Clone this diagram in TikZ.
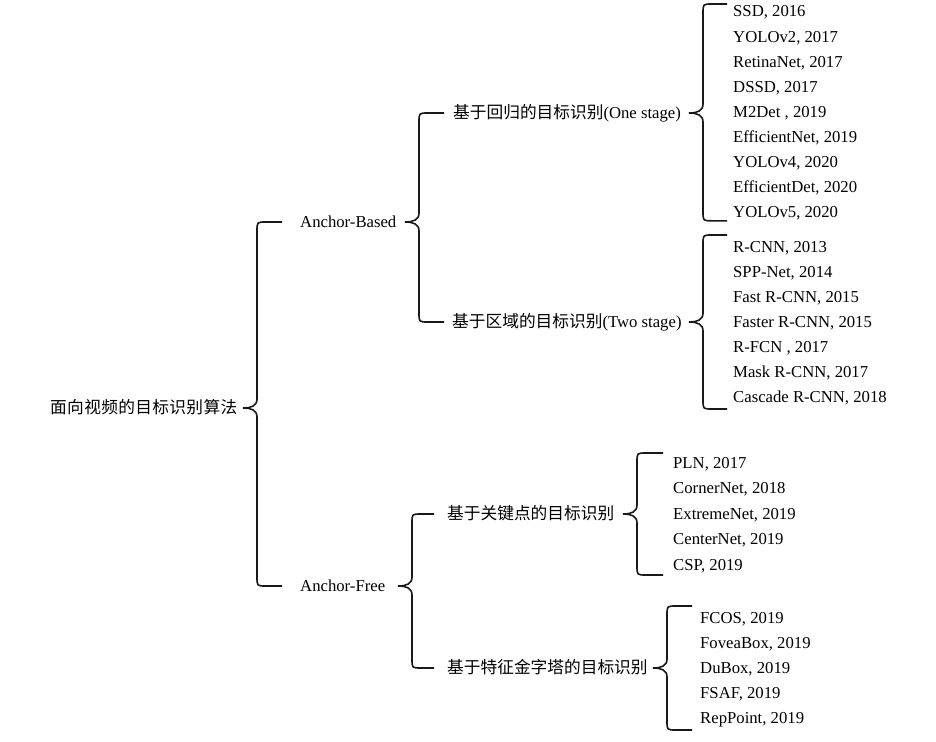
\documentclass[tikz,border=0pt]{standalone}
\usepackage{fontspec}
\setmainfont{Liberation Serif}
\newfontfamily\cjk{Noto Sans CJK SC}
\newfontfamily\cjkwide[LetterSpace=2]{Noto Sans CJK SC}
\usetikzlibrary{calc}
\tikzset{
  lbl/.style={anchor=west, inner sep=0pt, text height=12pt, text depth=2pt,
    font=\fontsize{16.7}{20}\selectfont, text=black},
  brc/.style={line width=1.6pt, draw=black!90},
}
\newcommand\bracetree[6]{%
  \draw[brc] let \p1=(#1.east), \p2=(#2.west), \p3=(#3.west) in
    (#5pt,\y2+#6pt) -- (#4pt+9pt,\y2+#6pt)
    .. controls (#4pt,\y2+#6pt) .. (#4pt,\y2+#6pt-9pt)
    -- (#4pt,\y1+9pt)
    .. controls (#4pt,\y1+2pt) and (#4pt-6pt,\y1) .. (#4pt-14pt,\y1)
    .. controls (#4pt-6pt,\y1) and (#4pt,\y1-2pt) .. (#4pt,\y1-9pt)
    -- (#4pt,\y3-#6pt+9pt)
    .. controls (#4pt,\y3-#6pt) .. (#4pt+9pt,\y3-#6pt)
    -- (#5pt,\y3-#6pt);
}
\begin{document}
\begin{tikzpicture}[x=1pt,y=-1pt]
  \fill[white] (0,0) rectangle (936,741);
  \useasboundingbox (0,0) rectangle (936,741);

  \node[lbl] (root) at (50,408) {\cjkwide 面向视频的目标识别算法};
  \node[lbl] (ab) at (300,222) {Anchor-Based};
  \node[lbl] (af) at (300,586) {Anchor-Free};
  \node[lbl] (one) at (453,113) {{\cjk 基于回归的目标识别}(One stage)};
  \node[lbl] (two) at (452,322) {{\cjk 基于区域的目标识别}(Two stage)};
  \node[lbl] (kp) at (447,514) {\cjk 基于关键点的目标识别};
  \node[lbl] (fp) at (447,668) {\cjk 基于特征金字塔的目标识别};

  \foreach \t [count=\i] in {{SSD, 2016},{YOLOv2, 2017},{RetinaNet, 2017},{DSSD, 2017},
      {M2Det , 2019},{EfficientNet, 2019},{YOLOv4, 2020},{EfficientDet, 2020},{YOLOv5, 2020}}
    \node[lbl] (o\i) at (733,{12+25.1*(\i-1)}) {\t};
  \foreach \t [count=\i] in {{R-CNN, 2013},{SPP-Net, 2014},{Fast R-CNN, 2015},{Faster R-CNN, 2015},
      {R-FCN , 2017},{Mask R-CNN, 2017},{Cascade R-CNN, 2018}}
    \node[lbl] (t\i) at (733,{247+25*(\i-1)}) {\t};
  \foreach \t [count=\i] in {{PLN, 2017},{CornerNet, 2018},{ExtremeNet, 2019},{CenterNet, 2019},{CSP, 2019}}
    \node[lbl] (k\i) at (673,{463+25.5*(\i-1)}) {\t};
  \foreach \t [count=\i] in {{FCOS, 2019},{FoveaBox, 2019},{DuBox, 2019},{FSAF, 2019},{RepPoint, 2019}}
    \node[lbl] (f\i) at (700,{618+25*(\i-1)}) {\t};

  \bracetree{root}{ab}{af}{257}{282}{0}
  \bracetree{ab}{one}{two}{419}{444}{0}
  \bracetree{af}{kp}{fp}{412}{434}{0}
  \bracetree{one}{o1}{o9}{703}{727}{8}
  \bracetree{two}{t1}{t7}{703}{727}{12}
  \bracetree{kp}{k1}{k5}{637}{663}{10}
  \bracetree{fp}{f1}{f5}{667}{692}{12}
\end{tikzpicture}
\end{document}
